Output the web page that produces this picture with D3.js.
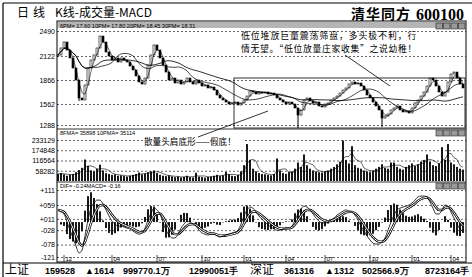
<!DOCTYPE html>
<html>
<head>
<meta charset="utf-8">
<script src="https://cdn.jsdelivr.net/npm/d3@7"></script>
<style>
body { margin: 0; background: #fff; }
svg { display: block; font-family: "Liberation Sans", Arial, sans-serif; }
.cjk { font-family: "Noto Sans CJK SC", sans-serif; }
</style>
</head>
<body>
<div id="chart"></div>
<script>
const closes = [
    2137, 2240, 2328, 2210, 2101, 1994, 1866, 1638, 1613, 1803,
    1994, 2079, 2137, 2240, 2416, 2328, 2181, 2122, 2079, 2101,
    2058, 2101, 2079, 2058, 2015, 1973, 1909, 1841, 1815, 1887,
    2026, 2137, 2284, 2210, 2101, 2026, 1951, 1866, 1887, 1828,
    1866, 1815, 1841, 1887, 1841, 1815, 1866, 1828, 1790, 1803,
    1765, 1777, 1739, 1676, 1638, 1613, 1587, 1562, 1575, 1587,
    1549, 1575, 1613, 1663, 1727, 1714, 1689, 1714, 1701, 1714,
    1689, 1701, 1676, 1638, 1613, 1587, 1562, 1587, 1562, 1510,
    1418, 1484, 1613, 1638, 1600, 1575, 1587, 1536, 1523, 1562,
    1575, 1613, 1638, 1663, 1701, 1739, 1765, 1815, 1841, 1815,
    1828, 1790, 1739, 1676, 1638, 1587, 1536, 1484, 1379, 1405,
    1432, 1484, 1510, 1536, 1484, 1458, 1471, 1445, 1510, 1575,
    1613, 1663, 1714, 1790, 1887, 1866, 1790, 1714, 1663, 1714,
    1841, 1930, 1951, 1887, 1815, 1765
];

// long lower shadows [index, low]
const spikeLows = [[80, 1249], [108, 1262], [7, 1600]];

const volumes = [
    40000, 45000, 38000, 30000, 35000, 40000, 50000, 62000, 75000, 122000,
    85000, 60000, 55000, 70000, 93000, 60000, 45000, 40000, 35000, 38000,
    30000, 32000, 28000, 25000, 30000, 35000, 40000, 48000, 38000, 42000,
    50000, 55000, 60000, 45000, 35000, 30000, 28000, 32000, 26000, 22000,
    25000, 20000, 24000, 30000, 22000, 20000, 47000, 25000, 22000, 20000,
    24000, 26000, 30000, 35000, 28000, 32000, 52000, 38000, 30000, 28000,
    35000, 55000, 90000, 210000, 120000, 70000, 55000, 45000, 40000, 38000,
    35000, 32000, 40000, 128000, 60000, 45000, 40000, 50000, 55000, 70000,
    105000, 80000, 151000, 90000, 70000, 60000, 55000, 50000, 48000, 55000,
    60000, 70000, 80000, 95000, 110000, 230000, 120000, 100000, 198000, 90000,
    75000, 70000, 60000, 55000, 50000, 60000, 70000, 80000, 95000, 75000,
    70000, 105000, 105000, 80000, 70000, 65000, 80000, 90000, 100000, 85000,
    95000, 110000, 120000, 151000, 110000, 90000, 85000, 100000, 192000, 120000,
    210000, 105000, 95000, 80000, 70000, 65000
];

const difs = [
    0.42, 0.35, 0.28, 0, -0.28, -0.55, -0.83, -1.07, -0.97, -0.48,
    0.07, 0.48, 0.66, 0.76, 0.76, 0.62, 0.42, 0.21, 0.03, -0.07,
    -0.14, -0.14, -0.17, -0.21, -0.24, -0.31, -0.38, -0.42, -0.38, -0.21,
    0.07, 0.31, 0.48, 0.42, 0.28, 0, -0.28, -0.45, -0.55, -0.55,
    -0.42, -0.21, -0.07, 0.03, 0, -0.07, -0.14, -0.28, -0.38, -0.42,
    -0.45, -0.42, -0.42, -0.48, -0.52, -0.48, -0.45, -0.42, -0.38, -0.35,
    -0.28, -0.07, 0.21, 0.42, 0.52, 0.48, 0.35, 0.21, 0.10, 0,
    -0.10, -0.17, -0.24, -0.28, -0.28, -0.24, -0.21, -0.21, -0.14, 0.07,
    0.28, 0.45, 0.55, 0.52, 0.42, 0.28, 0.14, 0.03, -0.03, -0.03,
    0, 0.07, 0.14, 0.24, 0.31, 0.38, 0.42, 0.38, 0.35, 0.24,
    0.07, -0.14, -0.31, -0.48, -0.62, -0.73, -0.76, -0.76, -0.69, -0.55,
    -0.28, 0, 0.24, 0.42, 0.48, 0.52, 0.55, 0.59, 0.66, 0.76,
    0.87, 0.90, 0.90, 0.87, 0.69, 0.48, 0.28, 0.28, 0.42, 0.59,
    0.55, 0.35, 0.14, -0.07, -0.24, -0.31
];

const priceTicks = [1288, 1562, 1866, 2122, 2490];
const volTicks = [58282, 116564, 174848, 233129];
const macdTicks = [-1.21, -0.78, -0.28, 0.11, 0.59, 1.11];
const macdTickLabels = ['-121', '-078', '-028', '+011', '+059', '+111'];
const dateTickIdx = [2, 18, 33, 48, 62, 76, 89, 104, 118, 131];
const dateTickLabels = ['12', '04', '07', '10', '01', '04', '07', '10', '01', '04'];

const statusItems = [
    ['上证', 5, true], ['159528', 45], ['▲1614', 85], ['999770.1万', 123],
    ['12990051手', 189], ['深证', 250, true], ['361316', 284], ['▲1312', 325],
    ['502566.9万', 362], ['8723164手', 425]
];

const width = 472, height = 277;
const left = 57, right = 466;

let svg = d3.select('#chart').append('svg')
    .attr('width', width)
    .attr('height', height);

svg.append('rect').attr('width', width).attr('height', height).attr('fill', '#fff');

// scales
const N = closes.length;
const x = d3.scaleLinear().domain([0, N - 1]).range([58, 463]);
const yPrice = d3.scaleLinear().domain(priceTicks).range([125, 104, 80, 56, 31]);
const yVol = d3.scaleLinear().domain([0, 233129]).range([181, 140]);
const yMacd = d3.scaleLinear().domain([-1.21, 1.11]).range([257, 190]);

// moving average helper (partial window at the start)
function ma(arr, n) {
    return arr.map((d, i) => d3.mean(arr.slice(Math.max(0, i - n + 1), i + 1)));
}

// frame
svg.append('line').attr('x1', 3).attr('x2', width).attr('y1', 3).attr('y2', 3)
    .attr('stroke', '#000').attr('stroke-width', 1.2);
svg.append('line').attr('x1', 3).attr('x2', 3).attr('y1', 3).attr('y2', height)
    .attr('stroke', '#000').attr('stroke-width', 1.2);
svg.append('rect').attr('x', left).attr('y', 21).attr('width', right - left).attr('height', 241)
    .attr('fill', 'none').attr('stroke', '#000').attr('stroke-width', 1);
svg.append('line').attr('x1', 3).attr('x2', width).attr('y1', 263).attr('y2', 263)
    .attr('stroke', '#000').attr('stroke-width', 1.2);
[129, 182].forEach(y => {
    svg.append('line').attr('x1', left).attr('x2', right).attr('y1', y).attr('y2', y)
        .attr('stroke', '#000').attr('stroke-width', 0.8);
});

// title
svg.append('text').attr('class', 'cjk').attr('x', 17).attr('y', 17)
    .attr('font-size', 12).text('日');
svg.append('text').attr('class', 'cjk').attr('x', 33).attr('y', 17)
    .attr('font-size', 12).text('线');
svg.append('text').attr('class', 'cjk').attr('x', 55).attr('y', 17)
    .attr('font-size', 12).text('K线-成交量-MACD');
svg.append('text').attr('class', 'cjk').attr('x', 351).attr('y', 19)
    .attr('font-size', 14).attr('font-weight', 'bold').attr('letter-spacing', 1).text('清华同方');
svg.append('text').attr('x', 416).attr('y', 20)
    .attr('font-family', '"Liberation Serif", serif')
    .attr('font-size', 16).attr('font-weight', 'bold').text('600100');

// price header band
svg.append('rect').attr('x', left + 1).attr('y', 22).attr('width', right - left - 2).attr('height', 6)
    .attr('fill', '#b5b5b5');
svg.append('text').attr('x', 60).attr('y', 27.5).attr('font-size', 5.6)
    .text('6PM= 17.60  10PM= 17.80  20PM= 18.45  30PM= 18.31');
svg.append('text').attr('x', 60).attr('y', 135).attr('font-size', 5.6)
    .text('8FMA=  35898  10PMA=  35114');
svg.append('text').attr('x', 60).attr('y', 187.5).attr('font-size', 5.6)
    .text('DIF=  -0.24MACD=  -0.16');

// panel buttons
[23, 130, 183].forEach(y => {
    svg.append('g').selectAll('rect')
        .data([0, 1, 2, 3])
        .enter().append('rect')
        .attr('x', d => 436 + d * 7.5).attr('y', y)
        .attr('width', 6.5).attr('height', 6)
        .attr('fill', '#999').attr('stroke', '#222').attr('stroke-width', 0.6);
});

// axes with dashed grids
function gridAxis(scale, ticks, fmt) {
    let g = svg.append('g')
        .attr('transform', 'translate(' + left + ',0)')
        .call(d3.axisLeft(scale).tickValues(ticks).tickSize(-(right - left)).tickPadding(2).tickFormat(fmt));
    g.select('.domain').remove();
    g.selectAll('line').attr('stroke', '#000').attr('stroke-width', 0.6).attr('stroke-dasharray', '2,2');
    g.selectAll('text').attr('font-size', 7).attr('fill', '#000')
        .attr('font-family', '"Liberation Sans Narrow", "Liberation Sans", sans-serif');
    return g;
}
gridAxis(yPrice, priceTicks, d => d);
gridAxis(yVol, volTicks, d => d);
gridAxis(yMacd, macdTicks, (d, i) => macdTickLabels[i]);

// candles
let opens = closes.map((c, i) => i ? closes[i - 1] : c);
let candles = svg.append('g');
candles.selectAll('rect')
    .data(closes)
    .enter().append('rect')
    .attr('x', (d, i) => x(i) - 1)
    .attr('width', 2)
    .attr('y', (d, i) => yPrice(Math.max(d, opens[i])))
    .attr('height', (d, i) => Math.max(1, Math.abs(yPrice(d) - yPrice(opens[i]))))
    .attr('fill', (d, i) => d >= opens[i] ? '#fff' : '#000')
    .attr('stroke', '#000').attr('stroke-width', 0.6);
candles.selectAll('line')
    .data(spikeLows)
    .enter().append('line')
    .attr('x1', d => x(d[0])).attr('x2', d => x(d[0]))
    .attr('y1', d => yPrice(Math.min(closes[d[0]], opens[d[0]])))
    .attr('y2', d => yPrice(d[1]))
    .attr('stroke', '#000').attr('stroke-width', 1);

// price moving averages
let priceLine = d3.line().x((d, i) => x(i)).y(d => yPrice(d));
[[3, 0.6], [12, 0.7], [28, 0.8]].forEach(([n, w]) => {
    svg.append('path').datum(ma(closes, n))
        .attr('d', priceLine)
        .attr('fill', 'none').attr('stroke', '#000').attr('stroke-width', w);
});

// volume bars
svg.append('g').selectAll('rect')
    .data(volumes)
    .enter().append('rect')
    .attr('x', (d, i) => x(i) - 0.9)
    .attr('width', 1.8)
    .attr('y', d => yVol(d))
    .attr('height', d => yVol(0) - yVol(d))
    .attr('fill', '#000');
let volLine = d3.line().x((d, i) => x(i)).y(d => yVol(d));
svg.append('path').datum(ma(volumes, 4)).attr('d', volLine)
    .attr('fill', 'none').attr('stroke', '#000').attr('stroke-width', 0.6);

// MACD
let deas = [];
difs.forEach((d, i) => deas.push(i ? deas[i - 1] + 0.4 * (d - deas[i - 1]) : d));
let hist = difs.map((d, i) => 2 * (d - deas[i]));
svg.append('g').selectAll('rect')
    .data(hist)
    .enter().append('rect')
    .attr('x', (d, i) => x(i) - 0.9)
    .attr('width', 1.8)
    .attr('y', d => yMacd(Math.max(0, d)))
    .attr('height', d => Math.abs(yMacd(d) - yMacd(0)))
    .attr('fill', '#000');
let macdLine = d3.line().x((d, i) => x(i)).y(d => yMacd(d)).curve(d3.curveMonotoneX);
svg.append('path').datum(deas).attr('d', macdLine)
    .attr('fill', 'none').attr('stroke', '#000').attr('stroke-width', 2.4);
svg.append('path').datum(deas).attr('d', macdLine)
    .attr('fill', 'none').attr('stroke', '#fff').attr('stroke-width', 1);
svg.append('path').datum(difs).attr('d', macdLine)
    .attr('fill', 'none').attr('stroke', '#000').attr('stroke-width', 0.8);

// date ticks
let dates = svg.append('g').selectAll('g')
    .data(dateTickIdx)
    .enter().append('g')
    .attr('transform', d => 'translate(' + x(d) + ',0)');
dates.append('line').attr('y1', 255).attr('y2', 262).attr('stroke', '#000').attr('stroke-width', 0.7);
dates.append('text').attr('x', 1.5).attr('y', 260.5).attr('font-size', 6)
    .text((d, i) => dateTickLabels[i]);

// annotations
svg.append('rect').attr('x', 234).attr('y', 78).attr('width', 231).attr('height', 50)
    .attr('fill', 'none').attr('stroke', '#000').attr('stroke-width', 0.8);
svg.append('text').attr('class', 'cjk').attr('x', 241).attr('y', 39)
    .attr('font-size', 8.8).attr('letter-spacing', 1).text('低位堆放巨量震荡筛盘，多头极不利，行');
svg.append('text').attr('class', 'cjk').attr('x', 241).attr('y', 52)
    .attr('font-size', 8.8).attr('letter-spacing', 0.7).text('情无望。“低位放量庄家收集”之说幼稚！');
svg.append('line').attr('x1', 345).attr('y1', 55).attr('x2', 390).attr('y2', 86)
    .attr('stroke', '#000').attr('stroke-width', 0.8);
svg.append('rect').attr('x', 143).attr('y', 137).attr('width', 100).attr('height', 9).attr('fill', '#fff');
svg.append('text').attr('class', 'cjk').attr('x', 144).attr('y', 145)
    .attr('font-size', 8.6).text('散量头肩底形——假底！');
svg.append('line').attr('x1', 198).attr('y1', 137).attr('x2', 268).attr('y2', 111)
    .attr('stroke', '#000').attr('stroke-width', 0.8);

// status bar
svg.append('g').selectAll('text')
    .data(statusItems)
    .enter().append('text')
    .attr('class', d => d[2] ? 'cjk' : null)
    .attr('x', d => d[1])
    .attr('y', 274)
    .attr('font-size', d => d[2] ? 12 : 9)
    .attr('font-weight', d => d[2] ? 'normal' : 'bold')
    .text(d => d[0]);
</script>
</body>
</html>
